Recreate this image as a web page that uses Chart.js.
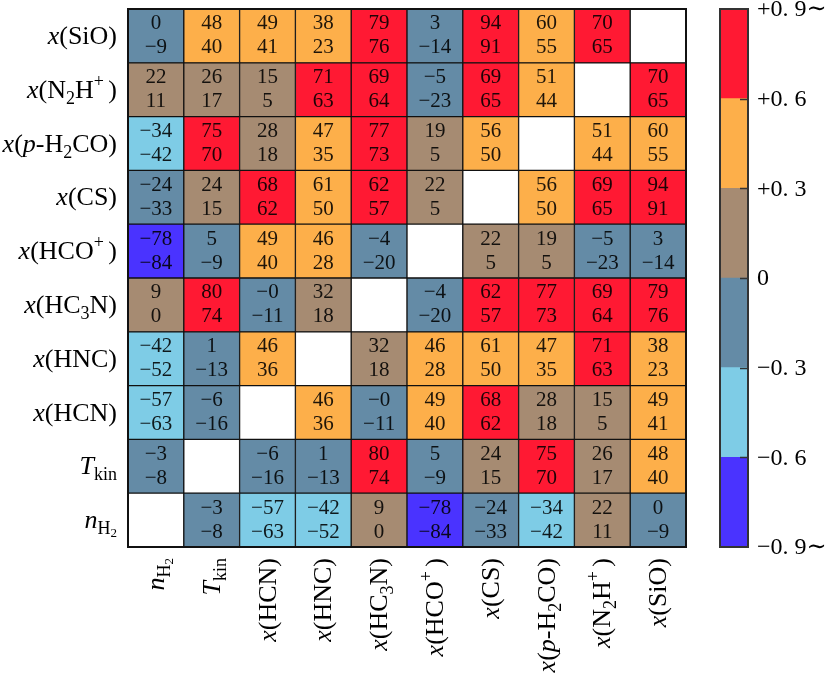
<!DOCTYPE html>
<html>
<head>
<meta charset="utf-8">
<script src="https://cdn.jsdelivr.net/npm/chart.js@4.4.1/dist/chart.umd.min.js"></script>
<style>
html, body { margin: 0; padding: 0; background: #fff; }
#wrap { position: relative; width: 831px; height: 676px; }
canvas { position: absolute; top: 0; }
</style>
</head>
<body>
<div id="wrap">
  <canvas id="heat" width="831" height="676" style="left:0"></canvas>
  <canvas id="cbar" width="131" height="676" style="left:700px"></canvas>
</div>
<script>
// variables, bottom-left to top / left to right
var names = ['*n*_{H_{2}}', '*T*_{kin}', '*x*(HCN)', '*x*(HNC)', '*x*(HC_{3}N)',
    '*x*(HCO^{+ })', '*x*(CS)', '*x*(*p*-H_{2}CO)', '*x*(N_{2}H^{+ })', '*x*(SiO)'];

// upper number in each cell (percent), row = variable index from the bottom
var upper = [
    [null, -3, -57, -42,  9, -78, -24, -34, 22,  0],
    [-3, null, -6,   1,  80,   5,  24,  75, 26, 48],
    [-57, -6, null, 46,  -0,  49,  68,  28, 15, 49],
    [-42,  1, 46, null,  32,  46,  61,  47, 71, 38],
    [  9, 80, -0,  32, null,  -4,  62,  77, 69, 79],
    [-78,  5, 49,  46,  -4, null,  22,  19, -5,  3],
    [-24, 24, 68,  61,  62,  22, null,  56, 69, 94],
    [-34, 75, 28,  47,  77,  19,  56, null, 51, 60],
    [ 22, 26, 15,  71,  69,  -5,  69,  51, null, 70],
    [  0, 48, 49,  38,  79,   3,  94,  60, 70, null]
];
// lower number in each cell
var lower = [
    [null, -8, -63, -52,   0, -84, -33, -42, 11,  -9],
    [-8, null, -16, -13,  74,  -9,  15,  70, 17,  40],
    [-63, -16, null, 36, -11,  40,  62,  18,  5,  41],
    [-52, -13, 36, null,  18,  28,  50,  35, 63,  23],
    [  0, 74, -11,  18, null, -20,  57,  73, 64,  76],
    [-84, -9,  40,  28, -20, null,   5,   5, -23, -14],
    [-33, 15,  62,  50,  57,   5, null,  50, 65,  91],
    [-42, 70,  18,  35,  73,   5,  50, null, 44,  55],
    [ 11, 17,   5,  63,  64, -23,  65,  44, null, 65],
    [ -9, 40,  41,  23,  76, -14,  91,  55, 65, null]
];

// colour bins
var binEdges = [-0.9, -0.6, -0.3, 0, 0.3, 0.6, 0.9];
var binColors = ['#4a33ff', '#7ecce6', '#648ba6', '#a68b72', '#fdaf4a', '#ff1933'];
var cbarTicks = [-0.9, -0.6, -0.3, 0, 0.3, 0.6, 0.9];
var cbarLabels = ['\u22120. 9\u223c', '\u22120. 6', '\u22120. 3', '0', '+0. 3', '+0. 6', '+0. 9\u223c'];

var SERIF = '"Liberation Serif", "DejaVu Serif", serif';

function cellColor(r, c) {
    if (r === c) return '#ffffff';
    var v = (lower[r][c] + 0.62 * (upper[r][c] - lower[r][c])) / 100;
    for (var i = 0; i < binColors.length; i++) {
        if (v < binEdges[i + 1]) return binColors[i];
    }
    return binColors[binColors.length - 1];
}

function fmt(v) {
    if (v < 0 || Object.is(v, -0)) return '\u2212' + Math.abs(v);
    return String(v);
}

// tiny markup: *italic*, _{sub}, ^{sup}
function parse(s, lvl, it, out) {
    var i = 0;
    while (i < s.length) {
        var ch = s[i];
        if (ch === '*') { it = !it; i++; continue; }
        if ((ch === '_' || ch === '^') && s[i + 1] === '{') {
            var d = 0, j = i + 1;
            for (; j < s.length; j++) {
                if (s[j] === '{') d++;
                else if (s[j] === '}') { d--; if (d === 0) break; }
            }
            parse(s.slice(i + 2, j), ch === '_' ? lvl - 1 : lvl + 1, it, out);
            i = j + 1;
            continue;
        }
        out.push({ t: ch, lvl: lvl, it: it });
        i++;
    }
    return out;
}

var lvlSize = { '0': 26, '-1': 18, '1': 18, '-2': 13 };
var lvlDy = { '0': 0, '-1': 6, '1': -11, '-2': 9 };

function segFont(s) {
    return (s.it ? 'italic ' : '') + lvlSize[s.lvl] + 'px ' + SERIF;
}

function drawRich(ctx, markup, x, y, align) {
    var segs = parse(markup, 0, false, []);
    var total = 0;
    segs.forEach(function (s) { ctx.font = segFont(s); s.w = ctx.measureText(s.t).width; total += s.w; });
    var px = align === 'right' ? x - total : x;
    ctx.textAlign = 'left';
    ctx.textBaseline = 'alphabetic';
    segs.forEach(function (s) {
        ctx.font = segFont(s);
        ctx.fillText(s.t, px, y + lvlDy[s.lvl]);
        px += s.w;
    });
}

var heatText = {
    id: 'heatText',
    afterDatasetsDraw: function (chart) {
        var ctx = chart.ctx, x = chart.scales.x, y = chart.scales.y, area = chart.chartArea;
        ctx.save();
        ctx.fillStyle = 'rgba(0,0,0,0.88)';
        ctx.textAlign = 'center';
        ctx.textBaseline = 'middle';
        ctx.font = '21px ' + SERIF;
        for (var r = 0; r < names.length; r++) {
            for (var c = 0; c < names.length; c++) {
                if (r === c) continue;
                var cx = x.getPixelForValue(c), cy = y.getPixelForValue(r + 0.5);
                ctx.fillText(fmt(upper[r][c]), cx, cy - 12);
                ctx.fillText(fmt(lower[r][c]), cx, cy + 12);
            }
        }
        ctx.strokeStyle = '#111';
        ctx.lineWidth = 2;
        ctx.strokeRect(area.left, area.top, area.right - area.left, area.bottom - area.top);

        ctx.fillStyle = '#000';
        // row labels
        for (var i = 0; i < names.length; i++) {
            drawRich(ctx, names[i], area.left - 11, y.getPixelForValue(i + 0.5) + 8, 'right');
        }
        // column labels, rotated
        for (var k = 0; k < names.length; k++) {
            ctx.save();
            ctx.translate(x.getPixelForValue(k), area.bottom + 11);
            ctx.rotate(-Math.PI / 2);
            drawRich(ctx, names[k], 0, 8, 'right');
            ctx.restore();
        }
        ctx.restore();
    }
};

var heatDatasets = names.map(function (_, r) {
    return {
        data: names.map(function () { return [r, r + 1]; }),
        backgroundColor: names.map(function (__, c) { return cellColor(r, c); }),
        borderColor: '#111',
        borderWidth: 1,
        borderSkipped: false,
        barPercentage: 1,
        categoryPercentage: 1
    };
});

new Chart(document.getElementById('heat').getContext('2d'), {
    type: 'bar',
    data: { labels: names, datasets: heatDatasets },
    options: {
        responsive: false,
        animation: false,
        devicePixelRatio: 1,
        layout: { padding: { left: 128, top: 9, right: 145, bottom: 129 } },
        plugins: { legend: { display: false }, tooltip: { enabled: false } },
        scales: {
            x: { type: 'category', stacked: true, display: false },
            y: { type: 'linear', min: 0, max: 10, display: false }
        }
    },
    plugins: [heatText]
});

// colorbar ticks and labels come from its y scale
var cbarFrame = {
    id: 'cbarFrame',
    afterDatasetsDraw: function (chart) {
        var ctx = chart.ctx, a = chart.chartArea, y = chart.scales.y;
        ctx.save();
        ctx.strokeStyle = '#333';
        ctx.lineWidth = 1.5;
        for (var i = 1; i < cbarTicks.length - 1; i++) {
            var py = Math.round(y.getPixelForValue(cbarTicks[i])) + 0.5;
            ctx.beginPath();
            ctx.moveTo(a.right - 8, py);
            ctx.lineTo(a.right, py);
            ctx.stroke();
        }
        ctx.lineWidth = 2;
        ctx.strokeRect(a.left, a.top, a.right - a.left, a.bottom - a.top);

        ctx.fillStyle = '#000';
        ctx.font = '24px ' + SERIF;
        ctx.textAlign = 'left';
        ctx.textBaseline = 'middle';
        for (var k = 0; k < cbarTicks.length; k++) {
            ctx.fillText(cbarLabels[k], a.right + 9, y.getPixelForValue(cbarTicks[k]) + 1);
        }
        ctx.restore();
    }
};

var cbarDatasets = binColors.map(function (col, i) {
    return {
        data: [[binEdges[i], binEdges[i + 1]]],
        backgroundColor: col,
        borderWidth: 0,
        barPercentage: 1,
        categoryPercentage: 1
    };
});

new Chart(document.getElementById('cbar').getContext('2d'), {
    type: 'bar',
    data: { labels: [''], datasets: cbarDatasets },
    options: {
        responsive: false,
        animation: false,
        devicePixelRatio: 1,
        layout: { padding: { left: 20, top: 9, right: 83, bottom: 129 } },
        plugins: { legend: { display: false }, tooltip: { enabled: false } },
        scales: {
            x: { stacked: true, display: false },
            y: { min: -0.9, max: 0.9, display: false }
        }
    },
    plugins: [cbarFrame]
});
</script>
</body>
</html>
